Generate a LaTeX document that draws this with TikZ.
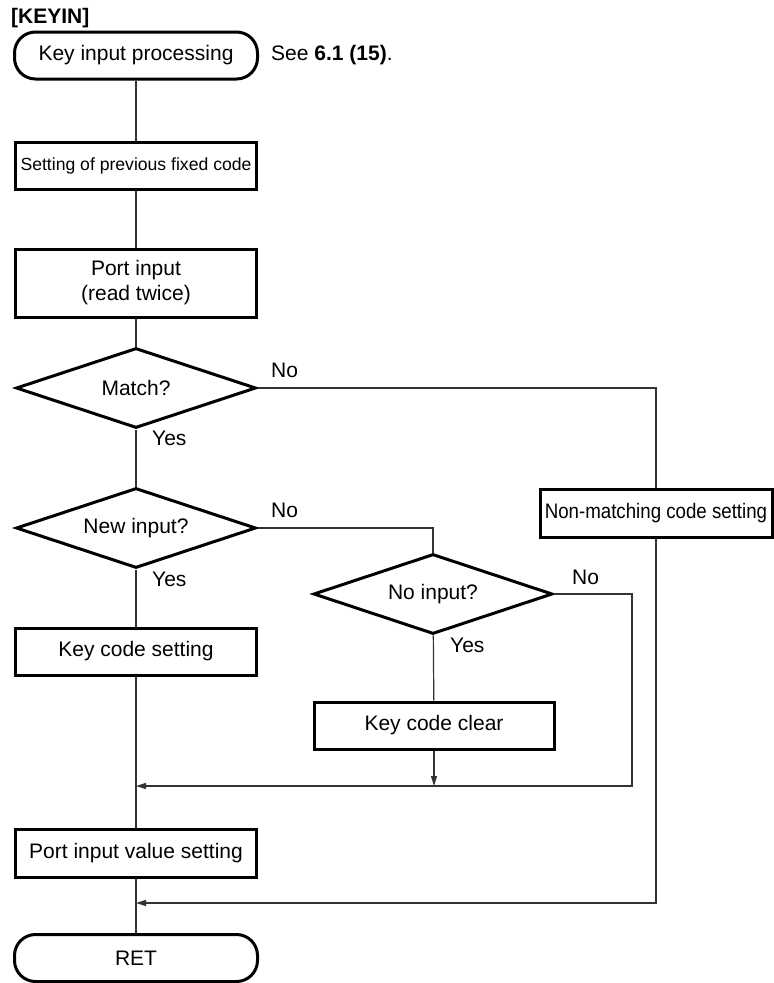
\documentclass[tikz,border=0pt]{standalone}
\usepackage{fontspec}
\usepackage{graphicx}
\setmainfont{Liberation Sans}
\usetikzlibrary{shapes.geometric,arrows.meta,calc}

\begin{document}
\begin{tikzpicture}[x=1pt,y=-1pt,
  txt/.style={font=\fontsize{21}{25}\selectfont},
  lbl/.style={txt,inner sep=0pt,anchor=west},
  proc/.style={draw,line width=3pt,minimum width=241pt,minimum height=47pt,
    inner sep=0pt,txt,align=center},
  term/.style={proc,rounded corners=21pt},
  decision/.style={draw,diamond,line width=3pt,minimum width=240pt,
    minimum height=80pt,inner sep=0pt,aspect=3,txt},
  flow/.style={line width=1.2pt,draw=black!80},
  arr/.style={flow,-{Triangle[length=10pt,width=6pt]}}]

\useasboundingbox (0,0) rectangle (774,983);

% title and start terminal
\node[lbl,font=\fontsize{21}{25}\selectfont\bfseries] (title) at (11,18.5) {[KEYIN]};
\node[term,minimum width=243pt] (start) at (136,55.5) {Key input processing};
\node[lbl] (see) at (271,55.5) {See \textbf{6.1 (15)}.};

% main column
\node[proc,font=\fontsize{17.6}{21}\selectfont] (prev) at (136,165.5) {Setting of previous fixed code};
\node[proc,minimum height=68pt] (port) at (136,283) {Port input\\(read twice)};
\node[decision] (match) at (136,388) {Match?};
\node[decision] (newin) at (136,528) {New input?};
\node[proc] (keyset) at (136,651.5) {Key code setting};
\node[proc,minimum height=48pt] (portval) at (136,853) {Port input value setting};
\node[term,minimum width=243pt] (ret) at (136,958) {RET};

% side branches
\node[proc,minimum width=232pt,minimum height=48pt] (nm) at (656,513)
  {\scalebox{0.89}[1]{Non-matching code setting}};
\node[decision,minimum width=239pt] (noin) at (433,594) {No input?};
\node[proc,minimum width=240pt] (keyclr) at (434,725.5) {Key code clear};

% branch labels
\node[lbl] (m-no) at (271,370) {No};
\node[lbl] (m-yes) at (152,438) {Yes};
\node[lbl] (n-no) at (271,510) {No};
\node[lbl] (n-yes) at (152,579) {Yes};
\node[lbl] (z-no) at (572,577) {No};
\node[lbl] (z-yes) at (450,645) {Yes};

% merge points on the main line
\coordinate (j1) at (136,786);
\coordinate (j2) at (136,903);

% connectors
\draw[flow] (start) -- (prev);
\draw[flow] (prev) -- (port);
\draw[flow] (port) -- (match);
\draw[flow] (match) -- (newin);
\draw[flow] (newin) -- (keyset);
\draw[flow] (keyset) -- (portval);
\draw[flow] (portval) -- (ret);

\draw[flow] (match.east) -| (nm.north);
\draw[flow] (newin.east) -| (noin.north);
\draw[flow] (noin) -- (keyclr);
\draw[arr] (keyclr.south) -- (keyclr.south |- j1);
\draw[arr] (noin.east) -- ++(78,0) |- (j1);
\draw[arr] (nm.south) |- (j2);

\end{tikzpicture}
\end{document}
